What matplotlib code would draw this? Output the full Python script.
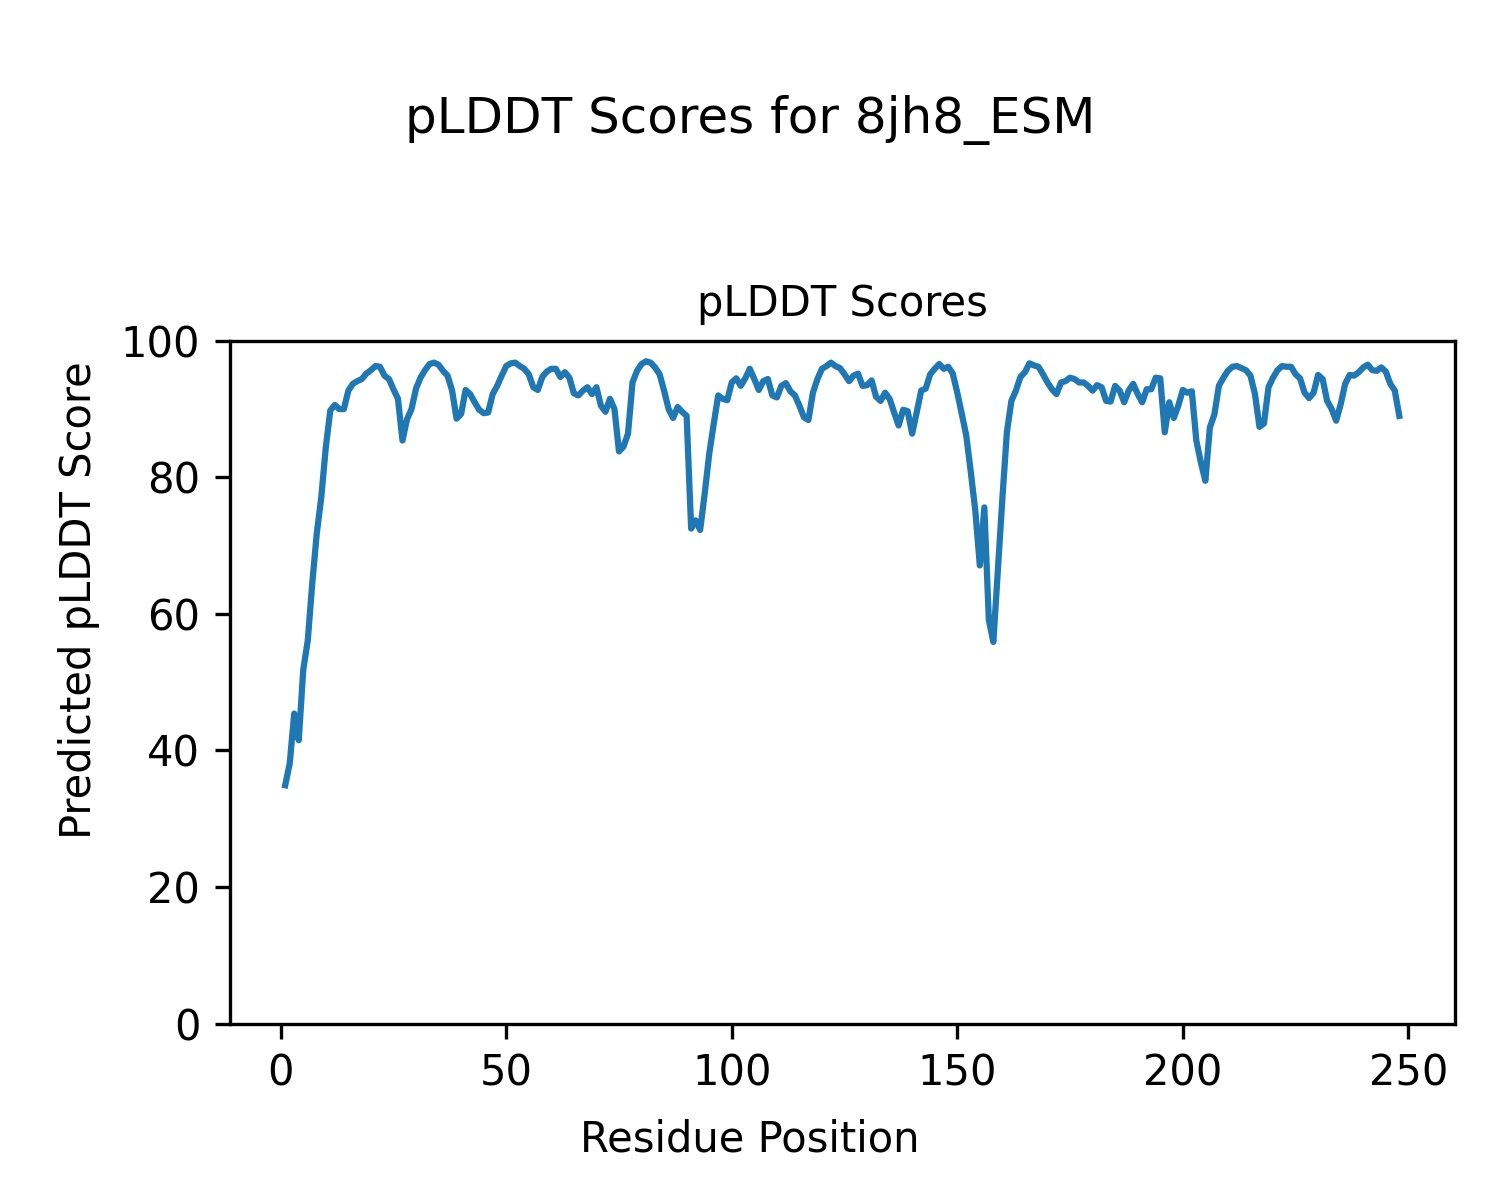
import numpy as np
import matplotlib
matplotlib.use("Agg")
import matplotlib.pyplot as plt

# residue positions 1..248
residues = np.arange(1, 249)

# pLDDT values, in chunks of residues
plddt_1_42 = [34.9, 38.1, 45.4, 41.5, 51.8, 56.1, 64.5, 71.8, 77.1, 84.4,
              89.8, 90.6, 90.0, 90.0, 92.7, 93.7, 94.1, 94.4, 95.2, 95.7,
              96.3, 96.2, 94.9, 94.4, 92.9, 91.5, 85.4, 88.5, 90.0, 93.0,
              94.6, 95.7, 96.6, 96.8, 96.5, 95.6, 94.9, 92.7, 88.6, 89.3,
              92.8, 92.2]
plddt_43_83 = [91.0, 89.9, 89.4, 89.5, 92.2, 93.4, 94.9, 96.3, 96.7, 96.8,
               96.3, 95.9, 95.1, 93.2, 92.8, 94.7, 95.5, 95.9, 95.9, 94.7,
               95.4, 94.6, 92.3, 92.0, 92.7, 93.2, 92.2, 93.2, 90.5, 89.6,
               91.5, 90.0, 83.8, 84.5, 86.4, 93.9, 95.6, 96.6, 97.0, 96.8,
               96.1]
plddt_84_126 = [95.1, 92.7, 90.0, 88.7, 90.3, 89.6, 89.0, 72.5, 73.7, 72.3,
                77.6, 83.4, 87.8, 92.0, 91.5, 91.3, 93.9, 94.5, 93.4, 94.5,
                95.9, 94.4, 92.8, 94.1, 94.4, 92.0, 91.7, 93.4, 93.8, 92.6,
                92.0, 90.5, 88.8, 88.4, 92.4, 94.4, 95.9, 96.3, 96.8, 96.3,
                96.0, 95.1, 94.1]
plddt_127_168 = [94.9, 95.2, 93.4, 93.5, 94.2, 91.8, 91.2, 92.4, 91.5, 89.5,
                 87.6, 89.9, 89.7, 86.4, 89.5, 92.7, 93.0, 95.1, 95.9, 96.6,
                 95.9, 96.2, 95.2, 92.4, 89.3, 86.1, 80.8, 75.1, 67.1, 75.6,
                 59.1, 55.9, 66.4, 76.9, 86.6, 91.2, 92.7, 94.7, 95.4, 96.7,
                 96.4, 96.2]
plddt_169_210 = [95.1, 93.9, 92.9, 92.2, 93.9, 94.1, 94.6, 94.4, 93.9, 93.9,
                 93.4, 92.7, 93.5, 93.2, 91.2, 91.1, 93.4, 92.7, 91.0, 92.7,
                 93.7, 92.2, 91.0, 92.9, 92.9, 94.6, 94.5, 86.6, 91.0, 88.7,
                 90.5, 92.8, 92.4, 92.6, 85.4, 82.2, 79.5, 87.3, 89.2, 93.4,
                 94.6, 95.6]
plddt_211_248 = [96.2, 96.3, 96.0, 95.7, 94.9, 92.2, 87.4, 87.9, 93.2, 94.6,
                 95.7, 96.3, 96.2, 96.2, 95.1, 94.5, 92.4, 91.6, 92.4, 95.0,
                 94.4, 91.2, 90.0, 88.3, 90.7, 93.7, 95.0, 94.9, 95.4, 96.1,
                 96.5, 95.7, 95.6, 96.1, 95.5, 93.7, 92.7, 89.0]

plddt = (plddt_1_42 + plddt_43_83 + plddt_84_126 + plddt_127_168
         + plddt_169_210 + plddt_211_248)

fig, ax = plt.subplots(figsize=(5, 4), dpi=300)
fig.subplots_adjust(left=0.153, right=0.97, bottom=0.147, top=0.716)

ax.plot(residues, plddt, color='#1f77b4')
ax.set_ylim(0, 100)
ax.set_title('pLDDT Scores', fontsize=10)

# labels sit at figure centre, not axes centre
fig.supxlabel('Residue Position', fontsize=10, y=0.040, va='baseline')
fig.supylabel('Predicted pLDDT Score', fontsize=10, x=0.053, ha='center', va='center')
fig.suptitle('pLDDT Scores for 8jh8_ESM', y=0.889, va='baseline')

fig.savefig('out.png', dpi=300)
